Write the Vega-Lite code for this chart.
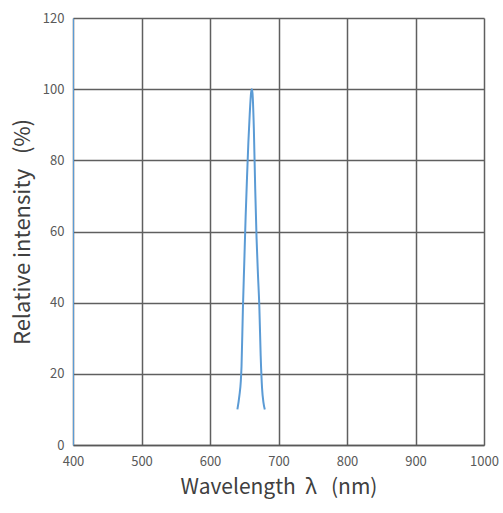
{
  "$schema": "https://vega.github.io/schema/vega-lite/v6.json",
  "width": 411,
  "height": 427,
  "autosize": {"type": "none"},
  "padding": {"left": 73, "top": 18, "right": 19, "bottom": 68},
  "background": "white",
  "config": {
    "view": {"stroke": null},
    "font": "Noto Sans CJK SC"
  },
  "data": {
    "values": [
      {"wavelength": 640, "intensity": 10},
      {"wavelength": 643, "intensity": 14},
      {"wavelength": 645, "intensity": 18},
      {"wavelength": 646, "intensity": 22},
      {"wavelength": 648, "intensity": 38},
      {"wavelength": 650, "intensity": 51},
      {"wavelength": 652, "intensity": 64},
      {"wavelength": 654, "intensity": 75},
      {"wavelength": 656, "intensity": 85},
      {"wavelength": 658, "intensity": 93},
      {"wavelength": 660, "intensity": 99},
      {"wavelength": 661, "intensity": 100},
      {"wavelength": 662, "intensity": 99},
      {"wavelength": 664, "intensity": 89},
      {"wavelength": 666, "intensity": 72},
      {"wavelength": 668, "intensity": 58},
      {"wavelength": 670, "intensity": 48},
      {"wavelength": 672, "intensity": 39},
      {"wavelength": 674, "intensity": 25},
      {"wavelength": 676, "intensity": 16},
      {"wavelength": 678, "intensity": 12},
      {"wavelength": 680, "intensity": 10}
    ]
  },
  "mark": {"type": "line", "color": "#5b9bd5", "strokeWidth": 2, "interpolate": "monotone"},
  "encoding": {
    "x": {
      "field": "wavelength",
      "type": "quantitative",
      "scale": {"domain": [400, 1000], "nice": false, "zero": false},
      "axis": {
        "values": [400, 500, 600, 700, 800, 900, 1000],
        "format": "d",
        "title": "Wavelength\u00a0\u00a0λ\u00a0\u00a0\u00a0(nm)",
        "titleFont": "Noto Sans CJK SC",
        "titleFontSize": 21,
        "titleFontWeight": "normal",
        "titleColor": "#404040",
        "titlePadding": 8,
        "labelFontSize": 13,
        "labelColor": "#595959",
        "labelPadding": 10,
        "labelFlush": false,
        "ticks": false,
        "domainColor": "#595959",
        "domainWidth": 1.5,
        "grid": true,
        "gridColor": "#5f5f5f",
        "gridWidth": 1.5
      }
    },
    "y": {
      "field": "intensity",
      "type": "quantitative",
      "scale": {"domain": [0, 120], "nice": false},
      "axis": {
        "values": [0, 20, 40, 60, 80, 100, 120],
        "title": "Relative intensity\u00a0\u00a0\u00a0(%)",
        "titleFont": "Noto Sans CJK SC",
        "titleFontSize": 22,
        "titleFontWeight": "normal",
        "titleColor": "#404040",
        "titlePadding": 8,
        "labelFontSize": 13,
        "labelColor": "#595959",
        "labelPadding": 9,
        "ticks": false,
        "domainColor": "#5b9bd5",
        "domainWidth": 1,
        "grid": true,
        "gridColor": "#5f5f5f",
        "gridWidth": 1.5
      }
    }
  }
}
